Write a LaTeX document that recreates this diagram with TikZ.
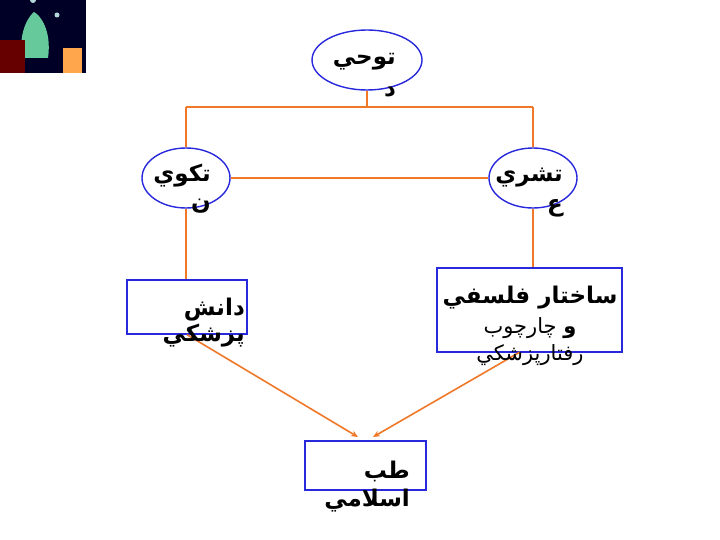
\documentclass[tikz,border=0pt]{standalone}
\usepackage{fontspec}
\newfontfamily\arabicfont[Script=Arabic]{DejaVu Sans}
\TeXXeTstate=1
\usetikzlibrary{shapes.geometric,arrows.meta}
\definecolor{ln}{RGB}{240,120,40}
\definecolor{bx}{RGB}{40,40,220}
\tikzset{x=1pt,y=-1pt,
 ell/.style={draw=bx,line width=1.4pt,fill=white},
 rbox/.style={draw=bx,line width=1.4pt,fill=white},
 conn/.style={draw=ln,line width=1.6pt},
 arr/.style={conn,-{Stealth[length=7pt,width=6pt]}},
 txt/.style={font=\arabicfont\bfseries\fontsize{23}{23}\selectfont,inner sep=0pt,anchor=east},
 txtn/.style={font=\arabicfont\fontsize{21}{21}\selectfont,inner sep=0pt}}
\begin{document}
\begin{tikzpicture}
\useasboundingbox (0,0) rectangle (720,540);
% photo
\fill[black!85!blue] (0,0) rectangle (86,73);
\fill[teal!70!green!60] (22,58) .. controls (18,30) and (30,15) .. (34,12) .. controls (40,15) and (52,30) .. (48,58) -- cycle;
\fill[red!40!black] (0,73) rectangle (25,40);
\fill[orange!70] (63,73) rectangle (82,48);
\fill[white!70!teal] (33,0) circle (3);
\fill[white!70!teal] (57,15) circle (2.5);
% lines
\coordinate (hl) at (186,107); \coordinate (hr) at (533,107); \coordinate (hm) at (367,107);
\node[ell,ellipse,minimum width=110pt,minimum height=60pt] (t) at (367,60) {};
\node[ell,ellipse,minimum width=88pt,minimum height=60pt] (k) at (186,178) {};
\node[ell,ellipse,minimum width=88pt,minimum height=60pt] (s) at (533,178) {};
\node[rbox,minimum width=120pt,minimum height=54pt] (d) at (187,307) {};
\node[rbox,minimum width=185pt,minimum height=84pt] (f) at (529.5,310) {};
\node[rbox,minimum width=121pt,minimum height=49pt] (e) at (365.5,465.5) {};
\draw[conn] (t.south) -- (hm);
\draw[conn] (hl) -- (hr);
\draw[conn] (hl) -- (k.north);
\draw[conn] (hr) -- (s.north);
\draw[conn] (k.east) -- (s.west);
\draw[conn] (k.south) -- (k.south |- d.north);
\draw[conn] (s.south) -- (f.north -| s.south);
\draw[arr] (d.south) -- (358,437);
\draw[arr] (520,352) -- (373,437);
% texts
\node[txt] at (396,62) {\beginR توحي\endR};
\node[txt] at (396,92) {\beginR د\endR};
\node[txt] at (211,176) {\beginR تكوي\endR};
\node[txt] at (211,206) {\beginR ن\endR};
\node[txt] at (563,178) {\beginR تشري\endR};
\node[txt] at (563,208) {\beginR ع\endR};
\node[txt] at (245,310) {\beginR دانش\endR};
\node[txt] at (245,336) {\beginR پزشکي\endR};
\node[txt,anchor=center] at (530,298) {\beginR ساختار فلسفي\endR};
\node[txtn] at (530,328) {\beginR{\bfseries و} چارچوب\endR};
\node[txtn] at (530,355) {\beginR رفتارپزشكي\endR};
\node[txt] at (410,471) {\beginR طب\endR};
\node[txt] at (410,501) {\beginR اسلامي\endR};
\end{tikzpicture}
\end{document}
